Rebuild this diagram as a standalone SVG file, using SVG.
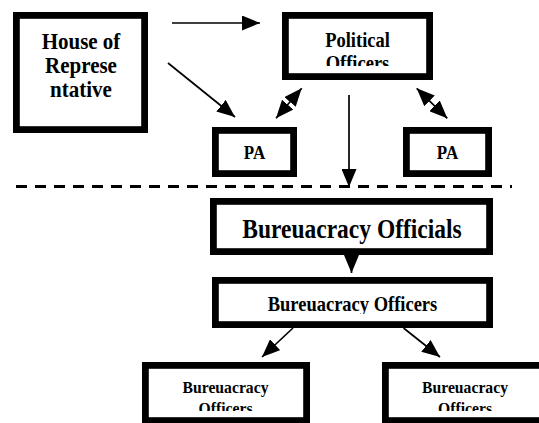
<svg xmlns="http://www.w3.org/2000/svg" width="539" height="423" viewBox="0 0 539 423">
  <style>
    .box { fill: #fff; stroke: #000; stroke-width: 6.8; }
    text { font-family: "Liberation Serif", "DejaVu Serif", serif; font-weight: 700; fill: #000; text-anchor: middle; }
    .c { stroke: #000; stroke-width: 1.7; fill: none; }
    .d { stroke: #000; stroke-width: 3; stroke-dasharray: 11 8; fill: none; }
  </style>
  <defs>
    <marker id="ah" viewBox="0 0 18 15" refX="18" refY="7.5" markerWidth="18" markerHeight="15" markerUnits="userSpaceOnUse" orient="auto-start-reverse">
      <path d="M0,0 L18,7.5 L0,15 z" fill="#000"/>
    </marker>
    <clipPath id="cpPol"><rect x="285" y="15" width="145" height="51"/></clipPath>
    <clipPath id="cpMid"><rect x="215" y="280" width="275" height="34"/></clipPath>
    <clipPath id="cpBL"><rect x="145" y="365" width="162" height="46"/></clipPath>
    <clipPath id="cpBR"><rect x="385" y="365" width="160" height="46"/></clipPath>
  </defs>

  <g id="house">
    <rect class="box" x="16.4" y="15.4" width="128.2" height="114.2"/>
    <text transform="translate(81,49) scale(1,1.12)" font-size="21">House of</text>
    <text transform="translate(81,73) scale(1,1.12)" font-size="21">Represe</text>
    <text transform="translate(81,97) scale(1,1.12)" font-size="21">ntative</text>
  </g>

  <g id="political">
    <rect class="box" x="285.4" y="15.4" width="144.2" height="61.2"/>
    <g clip-path="url(#cpPol)">
      <text transform="translate(357.5,47) scale(1,1.12)" font-size="18.5">Political</text>
      <text transform="translate(357.5,70) scale(1,1.12)" font-size="18.5">Officers</text>
    </g>
  </g>

  <g id="pa-left">
    <rect class="box" x="215.4" y="130.4" width="78.2" height="43.2"/>
    <text transform="translate(254.5,159) scale(1,1.12)" font-size="17">PA</text>
  </g>

  <g id="pa-right">
    <rect class="box" x="406.4" y="130.4" width="82.2" height="43.2"/>
    <text transform="translate(447.5,159) scale(1,1.12)" font-size="17">PA</text>
  </g>

  <g id="bureau-officials">
    <rect class="box" x="213.4" y="201.4" width="276.2" height="50.2"/>
    <text transform="translate(352,238) scale(1,1.15)" font-size="23.5">Bureuacracy Officials</text>
  </g>

  <g id="bureau-officers">
    <rect class="box" x="215.4" y="280.4" width="274.2" height="44.2"/>
    <g clip-path="url(#cpMid)">
      <text transform="translate(352.5,311) scale(1,1.12)" font-size="18.5">Bureuacracy Officers</text>
    </g>
  </g>

  <g id="bureau-officers-left">
    <rect class="box" x="145.4" y="365.4" width="161.2" height="55.2"/>
    <g clip-path="url(#cpBL)">
      <text transform="translate(225.5,393) scale(1,1.12)" font-size="15.7">Bureuacracy</text>
      <text transform="translate(225.5,414) scale(1,1.12)" font-size="15.7">Officers</text>
    </g>
  </g>

  <g id="bureau-officers-right">
    <rect class="box" x="385.4" y="365.4" width="162" height="55.2"/>
    <g clip-path="url(#cpBR)">
      <text transform="translate(465,393) scale(1,1.12)" font-size="15.7">Bureuacracy</text>
      <text transform="translate(465,414) scale(1,1.12)" font-size="15.7">Officers</text>
    </g>
  </g>

  <g id="connectors">
    <line class="c" x1="172" y1="23" x2="260" y2="23" marker-end="url(#ah)"/>
    <line class="c" x1="168" y1="63" x2="235" y2="117" marker-end="url(#ah)"/>
    <line class="c" x1="301.7" y1="88.3" x2="276" y2="118.3" marker-start="url(#ah)" marker-end="url(#ah)"/>
    <line class="c" x1="416.7" y1="88.3" x2="447.3" y2="118.3" marker-start="url(#ah)" marker-end="url(#ah)"/>
    <line class="c" x1="349" y1="95" x2="349" y2="187" marker-end="url(#ah)"/>
    <line class="d" x1="16" y1="186.5" x2="512" y2="186.5"/>
    <line class="c" x1="351.5" y1="255" x2="351.5" y2="273" marker-end="url(#ah)"/>
    <line class="c" x1="293" y1="328" x2="262" y2="357" marker-end="url(#ah)"/>
    <line class="c" x1="403.5" y1="328" x2="440" y2="357" marker-end="url(#ah)"/>
  </g>
</svg>
